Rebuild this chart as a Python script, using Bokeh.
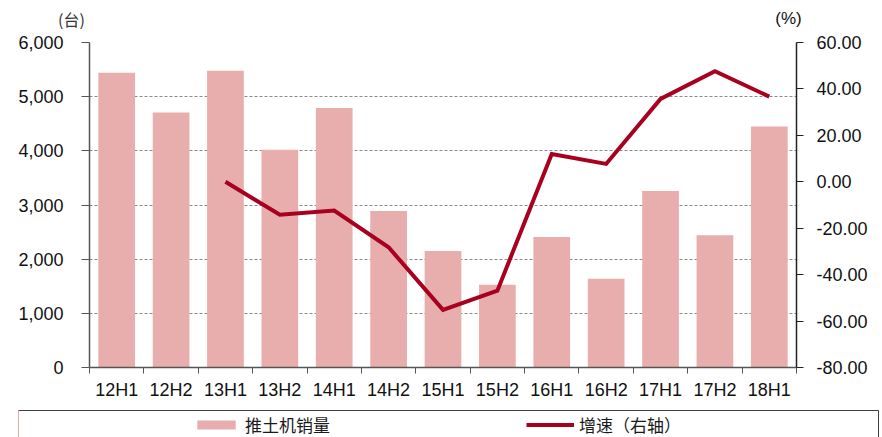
from bokeh.plotting import figure
from bokeh.models import (Range1d, LinearAxis, FixedTicker, NumeralTickFormatter, Label,
                          Legend, LegendItem, ColumnDataSource)
from bokeh.layouts import column
from bokeh.embed import file_html
from bokeh.resources import INLINE

# ---- data ----
periods = ["12H1", "12H2", "13H1", "13H2", "14H1", "14H2", "15H1",
           "15H2", "16H1", "16H2", "17H1", "17H2", "18H1"]
sales = [5440, 4710, 5480, 4020, 4790, 2890, 2150, 1530, 2410, 1640, 3260, 2440, 4450]
growth = [None, None, 0.0, -14.2, -12.4, -28.2, -55.2, -46.9, 12.0, 7.7, 35.7, 47.6, 36.7]
left_ticks = [0, 1000, 2000, 3000, 4000, 5000, 6000]
right_ticks = [-80, -60, -40, -20, 0, 20, 40, 60]
legend_labels = ["推土机销量", "增速（右轴）"]
unit_left = "(台)"
unit_right = "(%)"

n = len(periods)
xpos = [i + 0.5 for i in range(n)]
growth_vals = [float("nan") if g is None else g for g in growth]
src = ColumnDataSource(dict(x=xpos, sales=sales, growth=growth_vals, period=periods))

BAR = "#E8AEAD"
LINE = "#A8001F"
TICKFONT = "Liberation Sans"
W = 882

# ---- header strip with unit labels ----
hd = figure(width=W, height=31, x_range=Range1d(0, W), y_range=Range1d(31, 0),
            output_backend="svg", toolbar_location=None,
            x_axis_location=None, y_axis_location=None,
            min_border_left=0, min_border_right=0, min_border_top=0, min_border_bottom=0)
hd.grid.visible = False
hd.outline_line_color = None
hd.frame_align = False
hd.add_layout(Label(x=71, y=18, text=unit_left, text_align="center", text_baseline="middle",
                    text_font="Noto Sans CJK SC", text_font_size="16px", text_color="#333333"))
hd.add_layout(Label(x=788, y=18, text=unit_right, text_align="center", text_baseline="middle",
                    text_font=TICKFONT, text_font_size="17px", text_color="#111111"))

# ---- main chart ----
p = figure(frame_width=707, frame_height=325,
           x_range=Range1d(0, n), y_range=Range1d(left_ticks[0], left_ticks[-1]),
           output_backend="svg", toolbar_location=None,
           min_border_left=89, min_border_right=86, min_border_top=11, min_border_bottom=29)
p.frame_align = False
p.extra_y_ranges = {"right": Range1d(right_ticks[0], right_ticks[-1])}
p.outline_line_color = None

p.vbar(x="x", top="sales", width=0.675, source=src, fill_color=BAR, line_color=None)
p.line(x="x", y="growth", source=src, y_range_name="right", line_color=LINE, line_width=4,
       line_join="miter")

p.xgrid.visible = False
p.ygrid.ticker = FixedTicker(ticks=left_ticks)
p.ygrid.grid_line_color = "#8a8a8a"
p.ygrid.grid_line_dash = "3 2"
p.ygrid.grid_line_width = 1

xa = p.xaxis[0]
xa.ticker = FixedTicker(ticks=xpos, minor_ticks=list(range(n + 1)))
xa.major_label_overrides = {xpos[i]: periods[i] for i in range(n)}
xa.major_tick_out = 0
xa.major_tick_in = 0
xa.minor_tick_out = 6
xa.minor_tick_in = 0
xa.minor_tick_line_color = "#555555"
xa.axis_line_color = "#555555"
xa.axis_line_width = 1.5
xa.major_label_standoff = 6
xa.major_label_text_font = TICKFONT
xa.major_label_text_font_size = "18px"
xa.major_label_text_color = "#111111"

ya = p.yaxis[0]
ya.ticker = FixedTicker(ticks=left_ticks)
ya.formatter = NumeralTickFormatter(format="0,0")
ya.major_tick_out = 8
ya.major_tick_in = 0
ya.minor_tick_out = 0
ya.minor_tick_in = 0
ya.axis_line_color = "#555555"
ya.axis_line_width = 1.5
ya.major_tick_line_color = "#555555"
ya.major_label_standoff = 18
ya.major_label_text_font = TICKFONT
ya.major_label_text_font_size = "18px"
ya.major_label_text_color = "#111111"

ra = LinearAxis(y_range_name="right", ticker=FixedTicker(ticks=right_ticks),
                formatter=NumeralTickFormatter(format="0.00"))
ra.major_tick_out = 7
ra.major_tick_in = 0
ra.minor_tick_out = 0
ra.minor_tick_in = 0
ra.axis_line_color = "#222222"
ra.axis_line_width = 1.5
ra.major_tick_line_color = "#222222"
ra.major_label_standoff = 13
ra.major_label_text_font = TICKFONT
ra.major_label_text_font_size = "18px"
ra.major_label_text_color = "#111111"
p.add_layout(ra, "right")

# ---- legend strip ----
lg = figure(width=W, height=41, x_range=Range1d(100, 101), y_range=Range1d(0, 1),
            output_backend="svg", toolbar_location=None,
            x_axis_location=None, y_axis_location=None,
            min_border_left=18, min_border_right=4, min_border_top=8, min_border_bottom=0)
lg.frame_align = False
lg.grid.visible = False
lg.outline_line_color = "#404040"
lg.outline_line_width = 1
# same data, drawn outside this strip's visible range: only their legend swatches show
r1 = lg.vbar(x="x", top="sales", width=0.675, source=src, fill_color=BAR, line_color=None)
r2 = lg.line(x="x", y="growth", source=src, line_color=LINE, line_width=4)
legend = Legend(items=[LegendItem(label=legend_labels[0], renderers=[r1]),
                       LegendItem(label=legend_labels[1], renderers=[r2])],
                location=(174, 6), orientation="horizontal", padding=0, spacing=50,
                label_width=231, glyph_width=48, glyph_height=11, label_standoff=5,
                label_height=18, border_line_alpha=0, background_fill_alpha=0,
                label_text_font="Noto Sans CJK SC", label_text_font_size="17px",
                label_text_color="#1a1a1a")
lg.add_layout(legend, "center")

layout = column(hd, p, lg, spacing=0)
open("out.html", "w").write(file_html(layout, INLINE))
